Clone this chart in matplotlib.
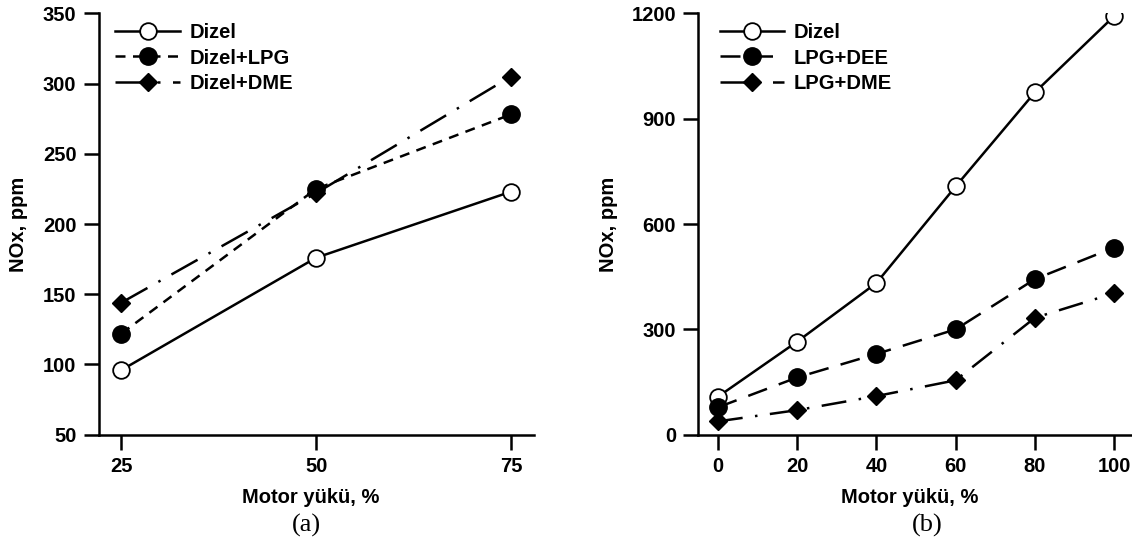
import matplotlib
matplotlib.use('Agg')
import matplotlib.pyplot as plt

plt.rcParams['font.family'] = ['Liberation Sans', 'DejaVu Sans']
plt.rcParams['font.weight'] = 'bold'

# panel (a)
load_a = [25, 50, 75]
dizel_a = [96, 176, 223]
dizel_lpg_a = [122, 225, 278]
dizel_dme_a = [144, 222, 305]

# panel (b)
load_b = [0, 20, 40, 60, 80, 100]
dizel_b = [108, 265, 432, 707, 975, 1192]
lpg_dee_b = [78, 163, 230, 300, 443, 533]
lpg_dme_b = [38, 70, 110, 155, 333, 403]

fig = plt.figure(figsize=(11.32, 5.43), dpi=100)
ax1 = fig.add_axes([0.0872, 0.1994, 0.3848, 0.7761])
ax2 = fig.add_axes([0.6170, 0.1994, 0.3830, 0.7761])

lw = 1.8
fs = 14.5
ax1.plot(load_a, dizel_a, '-', color='black', lw=lw, marker='o', ms=12,
         mfc='white', mec='black', mew=1.3, label='Dizel')
ax1.plot(load_a, dizel_lpg_a, color='black', lw=lw, ls=(0, (4, 3)), marker='o',
         ms=12.5, mfc='black', mec='black', label='Dizel+LPG')
ax1.plot(load_a, dizel_dme_a, color='black', lw=lw, ls=(0, (12, 5, 1, 5)), marker='D',
         ms=9, mfc='black', mec='black', label='Dizel+DME')

ax2.plot(load_b, dizel_b, '-', color='black', lw=lw, marker='o', ms=12,
         mfc='white', mec='black', mew=1.3, label='Dizel')
ax2.plot(load_b, lpg_dee_b, color='black', lw=lw, ls=(0, (8, 5)), marker='o',
         ms=12.5, mfc='black', mec='black', label='LPG+DEE')
ax2.plot(load_b, lpg_dme_b, color='black', lw=lw, ls=(0, (10, 5, 1, 5)), marker='D',
         ms=9, mfc='black', mec='black', label='LPG+DME')

ax1.set_xlim(22.1, 78.0)
ax1.set_ylim(50, 350)
ax1.set_xticks([25, 50, 75])
ax1.set_yticks([50, 100, 150, 200, 250, 300, 350])

ax2.set_xlim(-4.9, 104.5)
ax2.set_ylim(0, 1200)
ax2.set_xticks([0, 20, 40, 60, 80, 100])
ax2.set_yticks([0, 300, 600, 900, 1200])

for ax, lab_x, ylab_x, tag, tag_x, leg_x in [(ax1, 0.487, -0.162, '(a)', 0.476, 0.02),
                                              (ax2, 0.488, -0.186, '(b)', 0.527, 0.03)]:
    for s in ['top', 'right']:
        ax.spines[s].set_visible(False)
    for s in ['left', 'bottom']:
        ax.spines[s].set_linewidth(1.8)
    ax.tick_params(direction='out', length=11, width=1.8, labelsize=fs, pad=5)
    for t in ax.get_xticklabels() + ax.get_yticklabels():
        t.set_fontweight('bold')
    ax.set_xlabel('Motor yükü, %', fontsize=fs, fontweight='bold')
    ax.xaxis.set_label_coords(lab_x, -0.127)
    ax.set_ylabel('NOx, ppm', fontsize=fs, fontweight='bold')
    ax.yaxis.set_label_coords(ylab_x, 0.5)
    ax.text(tag_x, -0.215, tag, transform=ax.transAxes, ha='center', va='center',
            fontsize=19, family='Liberation Serif', fontweight='normal')
    ax.legend(loc='upper left', bbox_to_anchor=(leg_x, 0.995), frameon=False,
              handlelength=3.2, handletextpad=0.5, labelspacing=0.3,
              borderaxespad=0, prop={'size': fs, 'weight': 'bold'})

fig.savefig('out.png', dpi=100)
